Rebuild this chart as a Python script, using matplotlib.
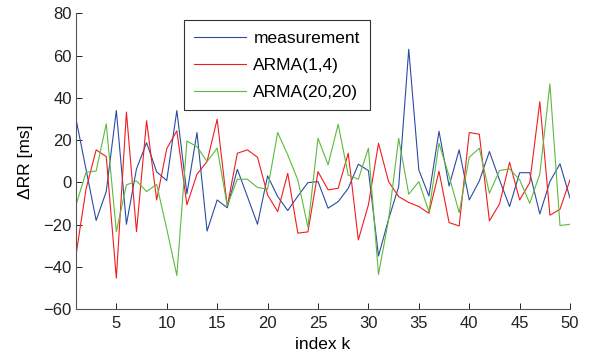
import matplotlib
matplotlib.use("Agg")
import matplotlib.pyplot as plt
import numpy as np

plt.rcParams['font.family'] = ['Liberation Sans', 'DejaVu Sans']

k = list(range(1, 51))
measurement = [30, 6, -18, -4.3, 34, -19.8, 6.4, 18.8, 5, 0.9,
               34, -5.4, 23.6, -23, -8.3, -12, 6.2, -6.7, -19.8, 3.1,
               -6.7, -13.3, -6.5, -0.1, 0.4, -12.2, -9.1, -2.8, 8.6, 5.6,
               -34.8, -17.4, -2, 63, 5.9, -6.4, 24.2, -1.7, 15.4, -8.3,
               0.7, 14.6, 1.2, -11.4, 4.6, 4.6, -14.9, 0.4, 8.8, -7.5]
arma_1_4 = [-34.3, -3, 15.4, 12.2, -45.3, 33.3, -23.3, 29.2, -8.3, 16,
            24.4, -10.6, 3.9, 9.9, 29.9, -11.4, 13.8, 15.4, 11.9, -5.9,
            -13.8, 4.3, -24, -23.4, 5.1, -3.5, -2.8, 13.8, -27.2, -10.6,
            18.5, 0.4, -6.7, -9.5, -11.4, -14.6, 5.3, -19, -20.6, 23.6,
            22.8, -18.2, -10.2, 9.5, -8.3, -0.1, 38.2, -15.5, -12.7, 1.3]
arma_20_20 = [-10.6, 4.8, 5.4, 27.7, -23.3, -1.2, 0.7, -4.3, -0.9, -22,
              -44, 19.6, 16.9, 9.9, 16.2, -11, 1.5, 1.5, -2.4, -3.2,
              23.6, 13, 1.2, -21.2, 20.9, 8.3, 27.5, 3.5, 1.5, 16.2,
              -43.5, -17.7, 20.9, -5.6, 0.4, -13.8, 18.5, 3, -14.3, 11.9,
              16.2, -5.1, 5.6, 6.4, 1.2, -9.9, 4, 46.6, -20.4, -19.8]

series_labels = ['measurement', 'ARMA(1,4)', 'ARMA(20,20)']
colors = ['#2b4ca4', '#f21c1c', '#5cba3c']
xticks = list(range(5, 55, 5))
yticks = list(range(-60, 100, 20))

fig = plt.figure(figsize=(5.91, 3.6), dpi=100)
ax = fig.add_axes([0.1286, 0.141, 0.836, 0.822])

for data, lab, c in zip([measurement, arma_1_4, arma_20_20], series_labels, colors):
    ax.plot(k, data, color=c, lw=0.8, label=lab)

ax.set_xlim(1, 50)
ax.set_ylim(-60, 80)
ax.set_xticks(xticks)
ax.set_yticks(yticks)
ax.set_yticklabels([str(v).replace('-', '\u2212') for v in yticks])
for s in ['top', 'right']:
    ax.spines[s].set_visible(False)
for s in ['left', 'bottom']:
    ax.spines[s].set_color('#555555')
    ax.spines[s].set_linewidth(0.8)
ax.tick_params(direction='in', length=4, width=0.7, colors='#222222',
               labelsize=12)
ax.tick_params(axis='y', pad=3)
ax.tick_params(axis='x', pad=5)
ax.set_xlabel('index k', fontsize=12.5)
ax.set_ylabel('\u0394RR [ms]', fontsize=12.5)
ax.yaxis.set_label_coords(-0.088, 0.5)
ax.xaxis.set_label_coords(0.5, -0.094)

leg = ax.legend(loc='upper left', bbox_to_anchor=(0.2186, 0.977), fontsize=12.5,
                frameon=True, fancybox=False, edgecolor='black',
                handlelength=2.95, handletextpad=0.45, borderpad=0.6,
                labelspacing=0.68, borderaxespad=0)
leg.get_frame().set_linewidth(0.8)

fig.savefig('out.png', dpi=100)
